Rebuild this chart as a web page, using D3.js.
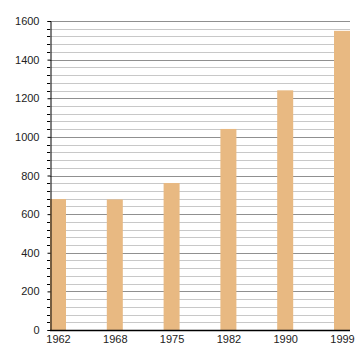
<!DOCTYPE html>
<html>
<head>
<meta charset="utf-8">
<script src="https://cdn.jsdelivr.net/npm/d3@7"></script>
<style>
  body { margin: 0; background: #fff; }
  text { font-family: "Liberation Sans", Arial, sans-serif; font-size: 11px; fill: #222; }
</style>
</head>
<body>
<div id="chart"></div>
<script>
var years = ["1962", "1968", "1975", "1982", "1990", "1999"];
var population = [678, 676, 761, 1041, 1241, 1549];
var yMajorTicks = [0, 200, 400, 600, 800, 1000, 1200, 1400, 1600];

var width = 360, height = 360;
var plotLeft = 50, plotRight = 350, plotTop = 21, plotBottom = 330;
var barW = 16;

var svg = d3.select("#chart").append("svg")
  .attr("width", width)
  .attr("height", height);

var y = d3.scaleLinear().domain([0, 1600]).range([plotBottom, plotTop]);
var x = d3.scalePoint().domain(years).range([plotLeft + barW / 2, plotRight - barW / 2]);

// minor grid every 40
var minor = d3.range(40, 1600, 40).filter(function(d) { return d % 200 !== 0; });
svg.append("g").selectAll("line").data(minor).enter().append("line")
  .attr("x1", plotLeft).attr("x2", plotRight)
  .attr("y1", function(d) { return Math.round(y(d)) + 0.5; })
  .attr("y2", function(d) { return Math.round(y(d)) + 0.5; })
  .attr("stroke", "#c8c8c8").attr("stroke-width", 1);

svg.append("g").selectAll("line").data(yMajorTicks.slice(1)).enter().append("line")
  .attr("x1", plotLeft).attr("x2", plotRight)
  .attr("y1", function(d) { return Math.round(y(d)) + 0.5; })
  .attr("y2", function(d) { return Math.round(y(d)) + 0.5; })
  .attr("stroke", "#909090").attr("stroke-width", 1);

// bars
svg.append("g").selectAll("rect").data(population).enter().append("rect")
  .attr("x", function(d, i) { return x(years[i]) - barW / 2; })
  .attr("y", function(d) { return y(d); })
  .attr("width", barW)
  .attr("height", function(d) { return plotBottom - y(d); })
  .attr("fill", "#e8b982");

// y axis
var yAxis = svg.append("g")
  .attr("transform", "translate(" + (plotLeft + 0.5) + ",0)")
  .call(d3.axisLeft(y).tickValues(yMajorTicks).tickSize(3).tickPadding(8).tickFormat(d3.format("d")));
yAxis.selectAll("text").style("font-size", "11px").attr("fill", "#222");
yAxis.select(".domain").attr("stroke", "#000");
yAxis.selectAll(".tick line").attr("stroke", "#000");

svg.append("g").selectAll("line").data(minor).enter().append("line")
  .attr("x1", plotLeft - 3).attr("x2", plotLeft)
  .attr("y1", function(d) { return Math.round(y(d)) + 0.5; })
  .attr("y2", function(d) { return Math.round(y(d)) + 0.5; })
  .attr("stroke", "#000");

// x axis
var xAxis = svg.append("g")
  .attr("transform", "translate(0," + (plotBottom + 0.5) + ")")
  .call(d3.axisBottom(x).tickSize(0).tickPadding(5));
xAxis.select(".domain").attr("d", "M" + plotLeft + ",0H" + plotRight).attr("stroke", "#000").attr("stroke-width", 1.5);
xAxis.selectAll("text").style("font-size", "11px").attr("fill", "#222");
</script>
</body>
</html>
